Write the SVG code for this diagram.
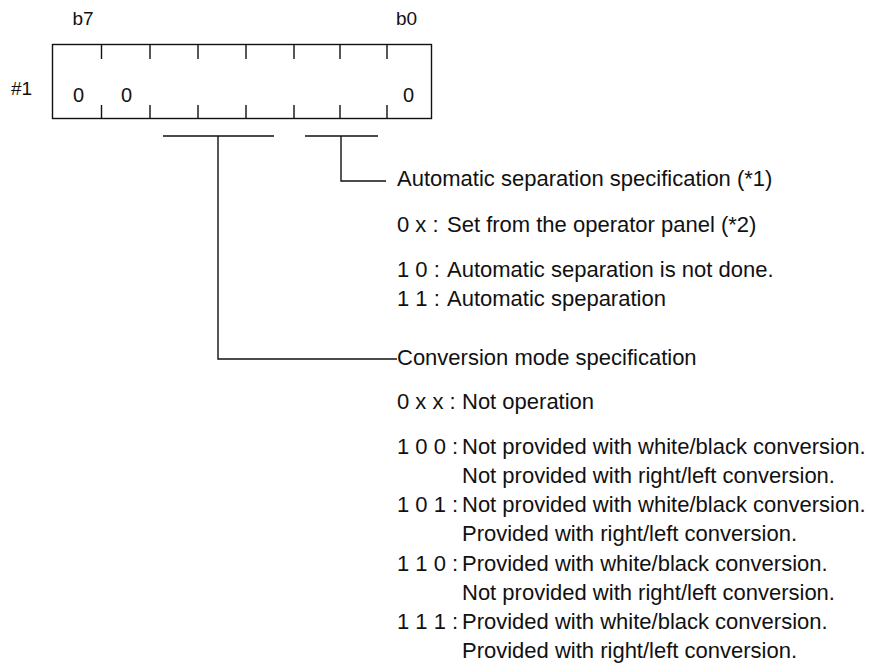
<svg xmlns="http://www.w3.org/2000/svg" width="875" height="667" viewBox="0 0 875 667">
<style>
text{font-family:"Liberation Sans",Arial,sans-serif;fill:#111}
.t{font-size:22px}
.s{font-size:19px}
.z{font-size:20px}
.ln{stroke:#111;stroke-width:1.4;fill:none}
</style>
<rect width="875" height="667" fill="#fff"/>
<g id="register">
<text class="s" x="72.5" y="25">b7</text>
<text class="s" x="396" y="25">b0</text>
<text class="s" x="11" y="95">#1</text>
<rect class="ln" x="52.5" y="44.5" width="379" height="74"/>
<path class="ln" d="M101.5 44.5V59M150 44.5V59M198 44.5V59M246 44.5V59M294 44.5V59M340 44.5V59M387 44.5V59M101.5 105V118.5M150 105V118.5M198 105V118.5M246 105V118.5M294 105V118.5M340 105V118.5M387 105V118.5"/>
<text class="z" x="73" y="101.5">0</text>
<text class="z" x="121" y="101.5">0</text>
<text class="z" x="403" y="101.5">0</text>
</g>
<g id="connectors">
<path class="ln" d="M163 136H274M218 136V359H397"/>
<path class="ln" d="M305 136H378M341 136V181H386"/>
</g>
<g id="auto-sep">
<text class="t" x="397" y="186">Automatic separation specification (*1)</text>
<text class="t" x="397" y="231.5">0 x :</text>
<text class="t" x="447" y="231.5">Set from the operator panel (*2)</text>
<text class="t" x="397" y="277">1 0 :</text>
<text class="t" x="447" y="277">Automatic separation is not done.</text>
<text class="t" x="397" y="305.5">1 1 :</text>
<text class="t" x="447" y="305.5">Automatic speparation</text>
</g>
<g id="conv-mode">
<text class="t" x="397" y="365">Conversion mode specification</text>
<text class="t" x="397" y="409">0 x x :</text>
<text class="t" x="462" y="409">Not operation</text>
<text class="t" x="397" y="453.5">1 0 0 :</text>
<text class="t" x="462" y="453.5">Not provided with white/black conversion.</text>
<text class="t" x="462" y="482.5">Not provided with right/left conversion.</text>
<text class="t" x="397" y="512">1 0 1 :</text>
<text class="t" x="462" y="512">Not provided with white/black conversion.</text>
<text class="t" x="462" y="541">Provided with right/left conversion.</text>
<text class="t" x="397" y="570.5">1 1 0 :</text>
<text class="t" x="462" y="570.5">Provided with white/black conversion.</text>
<text class="t" x="462" y="600">Not provided with right/left conversion.</text>
<text class="t" x="397" y="629">1 1 1 :</text>
<text class="t" x="462" y="629">Provided with white/black conversion.</text>
<text class="t" x="462" y="658">Provided with right/left conversion.</text>
</g>
</svg>
